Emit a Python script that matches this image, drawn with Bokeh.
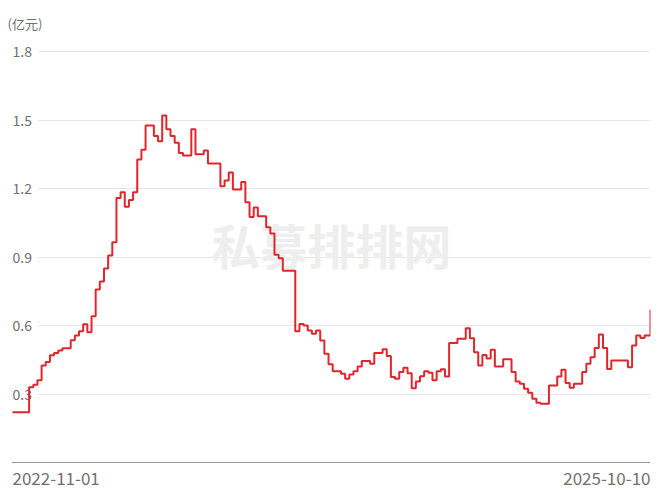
import pandas as pd
from bokeh.plotting import figure
from bokeh.models import Range1d, FixedTicker, Label, ColumnDataSource, Grid
from bokeh.core.properties import value
from bokeh.embed import file_html
from bokeh.resources import INLINE

# ---- data ----
start_date = "2022-11-01"
end_date = "2025-10-10"
n_weekly = 154
scale = [
    0.22, 0.22, 0.22, 0.22, 0.33, 0.34, 0.36, 0.425, 0.44, 0.47,
    0.48, 0.49, 0.50, 0.50, 0.535, 0.556, 0.575, 0.605, 0.57, 0.64,
    0.758, 0.793, 0.85, 0.907, 0.965, 1.158, 1.184, 1.12, 1.15, 1.184,
    1.327, 1.37, 1.476, 1.476, 1.43, 1.407, 1.52, 1.46, 1.43, 1.40,
    1.355, 1.345, 1.345, 1.46, 1.35, 1.35, 1.367, 1.31, 1.31, 1.31,
    1.21, 1.235, 1.27, 1.196, 1.196, 1.228, 1.14, 1.075, 1.117, 1.078,
    1.078, 1.03, 1.003, 0.91, 0.895, 0.84, 0.84, 0.84, 0.575, 0.607,
    0.60, 0.578, 0.564, 0.578, 0.534, 0.476, 0.43, 0.40, 0.40, 0.389,
    0.367, 0.385, 0.40, 0.42, 0.445, 0.445, 0.433, 0.48, 0.48, 0.496,
    0.466, 0.374, 0.367, 0.396, 0.415, 0.391, 0.325, 0.355, 0.378, 0.40,
    0.393, 0.36, 0.40, 0.408, 0.377, 0.523, 0.523, 0.542, 0.542, 0.588,
    0.544, 0.483, 0.425, 0.471, 0.456, 0.494, 0.42, 0.42, 0.452, 0.452,
    0.396, 0.355, 0.345, 0.323, 0.306, 0.279, 0.262, 0.257, 0.257, 0.337,
    0.337, 0.377, 0.406, 0.348, 0.327, 0.345, 0.345, 0.396, 0.432, 0.461,
    0.502, 0.561, 0.502, 0.41, 0.447, 0.447, 0.447, 0.447, 0.417, 0.512,
    0.556, 0.545, 0.556, 0.556, 0.669,
]
y_ticks = [0.3, 0.6, 0.9, 1.2, 1.5, 1.8]
y_tick_labels = ["0.3", "0.6", "0.9", "1.2", "1.5", "1.8"]
x_tick_labels = ["2022-11-01", "2025-10-10"]
unit_label = "(亿元)"
watermark = "私募排排网"

dates = list(pd.date_range(start_date, periods=n_weekly, freq="7D")) + [pd.Timestamp(end_date)]

FONT = "Noto Sans CJK SC"
LABEL_COLOR = "#707070"
RED = "#e0262c"

p = figure(
    width=660, height=491,
    x_axis_type="datetime",
    x_axis_location=None, y_axis_location=None,
    x_range=Range1d(dates[0] - pd.Timedelta(days=8.42), dates[-1]),
    y_range=Range1d(-0.127, 2.0234),
    output_backend="svg", toolbar_location=None,
    min_border_left=7, min_border_right=10, min_border_top=0, min_border_bottom=0,
)
p.outline_line_color = None
p.grid.visible = False
p.background_fill_color = "white"
p.border_fill_color = "white"

# horizontal grid lines at the y ticks
p.add_layout(Grid(dimension=1, ticker=FixedTicker(ticks=y_ticks),
                  grid_line_color="#e6e6e6", grid_line_width=1))

# watermark
p.add_layout(Label(x=324, y=248, x_units="screen", y_units="screen", text=watermark,
                   text_align="center", text_baseline="middle",
                   text_font=FONT, text_font_size="48px", text_font_style="bold",
                   text_color="#eeeeee", level="underlay"))

# unit label
p.add_layout(Label(x=0, y=468, x_units="screen", y_units="screen", text=unit_label,
                   text_align="left", text_baseline="middle",
                   text_font=FONT, text_font_size="13px", text_color=LABEL_COLOR))

# x axis line (dotted), from first to last date
p.segment(x0=[dates[0]], x1=[dates[-1]], y0=[0], y1=[0],
          line_color="#333333", line_dash="1 1", line_width=1)

# y tick labels inside the plot
ysrc = ColumnDataSource(dict(x=[dates[0]] * len(y_ticks), y=y_ticks, t=y_tick_labels))
p.text(x="x", y="y", text="t", source=ysrc, text_align="left", text_baseline="middle",
       x_offset=-6,
       text_font=value(FONT), text_font_size="14px", text_color=LABEL_COLOR,
       background_fill_color="white", padding=6)

# x tick labels (first / last date)
p.text(x=[dates[0]], y=[0], text=[x_tick_labels[0]], text_align="left", text_baseline="top",
       y_offset=9, text_font=value(FONT), text_font_size="17px", text_color=LABEL_COLOR)
p.text(x=[dates[-1]], y=[0], text=[x_tick_labels[1]], text_align="right", text_baseline="top",
       y_offset=9, text_font=value(FONT), text_font_size="17px", text_color=LABEL_COLOR)

# the series
src = ColumnDataSource(dict(date=dates, scale=scale))
p.step(x="date", y="scale", source=src, mode="after", line_color=RED, line_width=2)

open("out.html", "w").write(file_html(p, INLINE))
